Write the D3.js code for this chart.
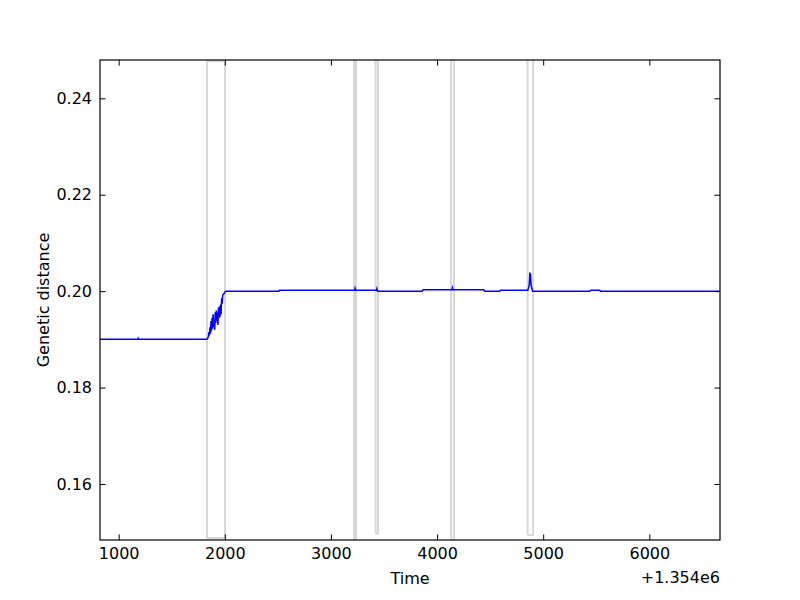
<!DOCTYPE html>
<html>
<head>
<meta charset="utf-8">
<script src="https://cdn.jsdelivr.net/npm/d3@7"></script>
<style>
  body { margin: 0; background: #fff; }
  text { font-family: "DejaVu Sans", sans-serif; }
</style>
</head>
<body>
<div class="chart"></div>
<script>
// time values are offsets from 1.354e6
const timeOffset = "+1.354e6";

// blue series: genetic distance over time
const distTime = [824, 1180, 1183, 1186, 1832, 1845, 1850, 1855, 1860, 1865, 1870, 1875, 1880,
  1885, 1890, 1895, 1900, 1905, 1910, 1915, 1920, 1925, 1930, 1935, 1940, 1945, 1950,
  1955, 1960, 1965, 1970, 1975, 1980, 1990, 2000, 2010, 2510, 2515, 3225, 3228, 3235,
  3430, 3433, 3440, 3860, 3870, 4140, 4145, 4150, 4440, 4450, 4590, 4600, 4855, 4862,
  4868, 4875, 4880, 4885, 4890, 4900, 5440, 5450, 5530, 5540, 6666];
const distValue = [0.19, 0.19, 0.1902, 0.19, 0.19, 0.1905, 0.1915, 0.1908, 0.1925, 0.1912,
  0.1938, 0.1918, 0.1945, 0.1922, 0.1952, 0.1926, 0.1940, 0.1920, 0.1956, 0.1934, 0.1960,
  0.1938, 0.1955, 0.1930, 0.1966, 0.1944, 0.1968, 0.1947, 0.1972, 0.1952, 0.1985,
  0.1974, 0.1992, 0.1994, 0.1998, 0.2000, 0.2000, 0.2002, 0.2002, 0.2006, 0.2002,
  0.2002, 0.2005, 0.2000, 0.2000, 0.2003, 0.2003, 0.2007, 0.2003, 0.2003, 0.2000,
  0.2000, 0.2002, 0.2002, 0.2007, 0.2012, 0.2037, 0.2036, 0.2015, 0.2008, 0.2000,
  0.2000, 0.2002, 0.2002, 0.2000, 0.2000];

// grey boxes marking gaps
const gapStart = [1832, 3218, 3421, 4132, 4853];
const gapEnd = [2002, 3237, 3444, 4160, 4905];
const gapLow = [0.1488, 0.14, 0.1497, 0.14, 0.1494];
const gapHigh = [0.2477, 0.26, 0.26, 0.26, 0.26];

const xTicks = [1000, 2000, 3000, 4000, 5000, 6000];
const yTicks = [0.16, 0.18, 0.20, 0.22, 0.24];
const xDomain = [824, 6666];
const yDomain = [0.14838, 0.24795];

let margin = { top: 60, right: 80, bottom: 60, left: 100 };
let width = 800 - margin.left - margin.right,
  height = 600 - margin.top - margin.bottom;

let svg = d3
  .select(".chart")
  .append("svg")
  .attr("width", 800)
  .attr("height", 600)
  .append("g")
  .attr("transform", `translate(${margin.left}, ${margin.top})`);

let x = d3.scaleLinear().domain(xDomain).range([0, width]);
let y = d3.scaleLinear().domain(yDomain).range([height, 0]);

svg.append("clipPath").attr("id", "plot")
  .append("rect").attr("width", width).attr("height", height);

let plot = svg.append("g").attr("clip-path", "url(#plot)");

// grey gap boxes
plot.selectAll(".gap")
  .data(gapStart.map((s, i) => ({ s: s, e: gapEnd[i], lo: gapLow[i], hi: gapHigh[i] })))
  .enter()
  .append("path")
  .attr("class", "gap")
  .attr("fill", "none")
  .attr("stroke", "#d8d8d8")
  .attr("stroke-width", 2)
  .attr("d", function (d) {
    return d3.line()([
      [x(d.s), y(d.lo)], [x(d.s), y(d.hi)], [x(d.e), y(d.hi)], [x(d.e), y(d.lo)], [x(d.s), y(d.lo)]
    ]);
  });

// blue distance line
let line = d3.line()
  .x(function (d) { return x(d[0]); })
  .y(function (d) { return y(d[1]); });

plot.append("path")
  .datum(distTime.map((t, i) => [t, distValue[i]]))
  .attr("fill", "none")
  .attr("stroke", "#0000ff")
  .attr("stroke-width", 1.5)
  .attr("d", line);

// axes with inward ticks on all four sides
const tickLen = 5.6;
svg.append("g")
  .attr("transform", `translate(0, ${height})`)
  .call(d3.axisBottom(x).tickValues(xTicks).tickSize(-tickLen).tickPadding(8).tickFormat(d3.format("d")));
svg.append("g")
  .call(d3.axisTop(x).tickValues(xTicks).tickSize(-tickLen).tickFormat(""));
svg.append("g")
  .call(d3.axisLeft(y).tickValues(yTicks).tickSize(-tickLen).tickPadding(8).tickFormat(d3.format(".2f")));
svg.append("g")
  .attr("transform", `translate(${width}, 0)`)
  .call(d3.axisRight(y).tickValues(yTicks).tickSize(-tickLen).tickFormat(""));

svg.selectAll(".domain").remove();
svg.selectAll(".tick line").attr("stroke", "#000").attr("stroke-width", 1);
svg.selectAll(".tick text").attr("font-size", "16px").attr("fill", "#000")
  .style("font-family", "'DejaVu Sans', sans-serif");

svg.append("rect")
  .attr("width", width)
  .attr("height", height)
  .attr("fill", "none")
  .attr("stroke", "#000")
  .attr("stroke-width", 1.2);

// labels
svg.append("text")
  .attr("x", width / 2)
  .attr("y", height + 44)
  .attr("text-anchor", "middle")
  .attr("font-size", "16px")
  .text("Time");

svg.append("text")
  .attr("x", width)
  .attr("y", height + 43)
  .attr("text-anchor", "end")
  .attr("font-size", "16px")
  .text(timeOffset);

svg.append("text")
  .attr("transform", `translate(-51, ${height / 2}) rotate(-90)`)
  .attr("text-anchor", "middle")
  .attr("font-size", "16px")
  .text("Genetic distance");
</script>
</body>
</html>
